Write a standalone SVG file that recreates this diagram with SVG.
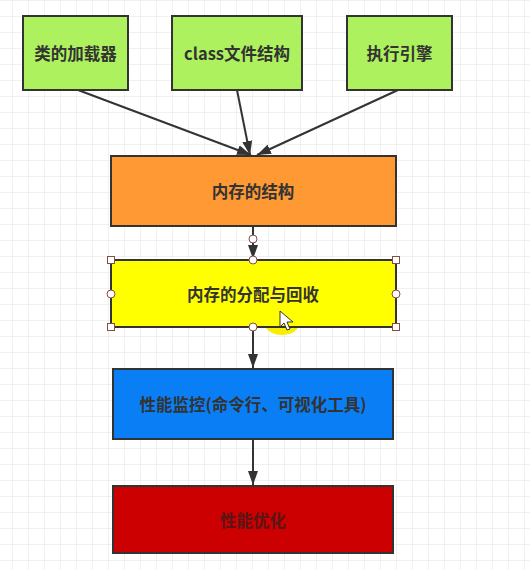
<svg xmlns="http://www.w3.org/2000/svg" width="530" height="570" viewBox="0 0 530 570">
<style>
.box{stroke:#333;stroke-width:2}
.t{font-family:"Noto Sans CJK SC","Liberation Sans",sans-serif;font-size:16.5px;font-weight:bold;fill:#333;text-anchor:middle;dominant-baseline:central}
.c{stroke:#333;stroke-width:2;fill:none}
.h{fill:#fff;stroke:#8a4a4a;stroke-width:1}
</style>
<defs>
<pattern id="g" x="12" y="0" width="16" height="16" patternUnits="userSpaceOnUse">
<path d="M0 0H16M0 0V16" stroke="#e3e3e3" stroke-width="1" fill="none"/>
</pattern>
<marker id="a" markerWidth="14" markerHeight="10" refX="14" refY="5" orient="auto" markerUnits="userSpaceOnUse">
<path d="M0 0L14 5L0 10Z" fill="#333"/>
</marker>
</defs>
<rect width="530" height="570" fill="#fff"/>
<rect width="530" height="570" fill="url(#g)"/>
<g id="connectors">
<line class="c" x1="78" y1="90" x2="251" y2="155" marker-end="url(#a)"/>
<line class="c" x1="237" y1="90" x2="250" y2="155" marker-end="url(#a)"/>
<line class="c" x1="398" y1="90" x2="257" y2="155" marker-end="url(#a)"/>
<line class="c" x1="253" y1="226" x2="253" y2="259" marker-end="url(#a)"/>
<line class="c" x1="253" y1="327" x2="253" y2="368" marker-end="url(#a)"/>
<line class="c" x1="253" y1="439" x2="253" y2="485" marker-end="url(#a)"/>
</g>
<g id="n1"><rect class="box" x="23" y="16" width="105" height="74" fill="#adf25e"/><text class="t" x="75.5" y="53">类的加载器</text></g>
<g id="n2"><rect class="box" x="172" y="16" width="130" height="74" fill="#adf25e"/><text class="t" x="237" y="53">class文件结构</text></g>
<g id="n3"><rect class="box" x="347" y="16" width="105" height="74" fill="#adf25e"/><text class="t" x="399.5" y="53">执行引擎</text></g>
<g id="n4"><rect class="box" x="111" y="156" width="285" height="70" fill="#ff9933"/><text class="t" x="253" y="191">内存的结构</text></g>
<g id="n5">
<ellipse cx="282" cy="322" rx="18" ry="13" fill="#f4f000"/>
<rect class="box" x="111" y="260" width="285" height="67" fill="#ffff00"/>
<text class="t" x="253" y="294">内存的分配与回收</text>
</g>
<g id="n6"><rect class="box" x="113" y="369" width="280" height="70" fill="#0a7ff5"/><text class="t" x="253" y="404">性能监控(命令行、可视化工具)</text></g>
<g id="n7"><rect class="box" x="113" y="486" width="280" height="67" fill="#cc0000"/><text class="t" x="253" y="520" style="fill:#5a1515">性能优化</text></g>
<g id="selection">
<circle class="h" cx="253" cy="239" r="4"/>
<rect class="h" x="107.5" y="256.5" width="7" height="7"/>
<rect class="h" x="392.5" y="256.5" width="7" height="7"/>
<rect class="h" x="107.5" y="323.5" width="7" height="7"/>
<rect class="h" x="392.5" y="323.5" width="7" height="7"/>
<circle class="h" cx="253" cy="260" r="4"/>
<circle class="h" cx="111" cy="294" r="4"/>
<circle class="h" cx="396" cy="294" r="4"/>
<circle class="h" cx="253" cy="327" r="4"/>
<path d="M280 311V327L284 323L287 330L290 329L287 322L293 322Z" fill="#fff" stroke="#333" stroke-width="1"/>
</g>
</svg>
